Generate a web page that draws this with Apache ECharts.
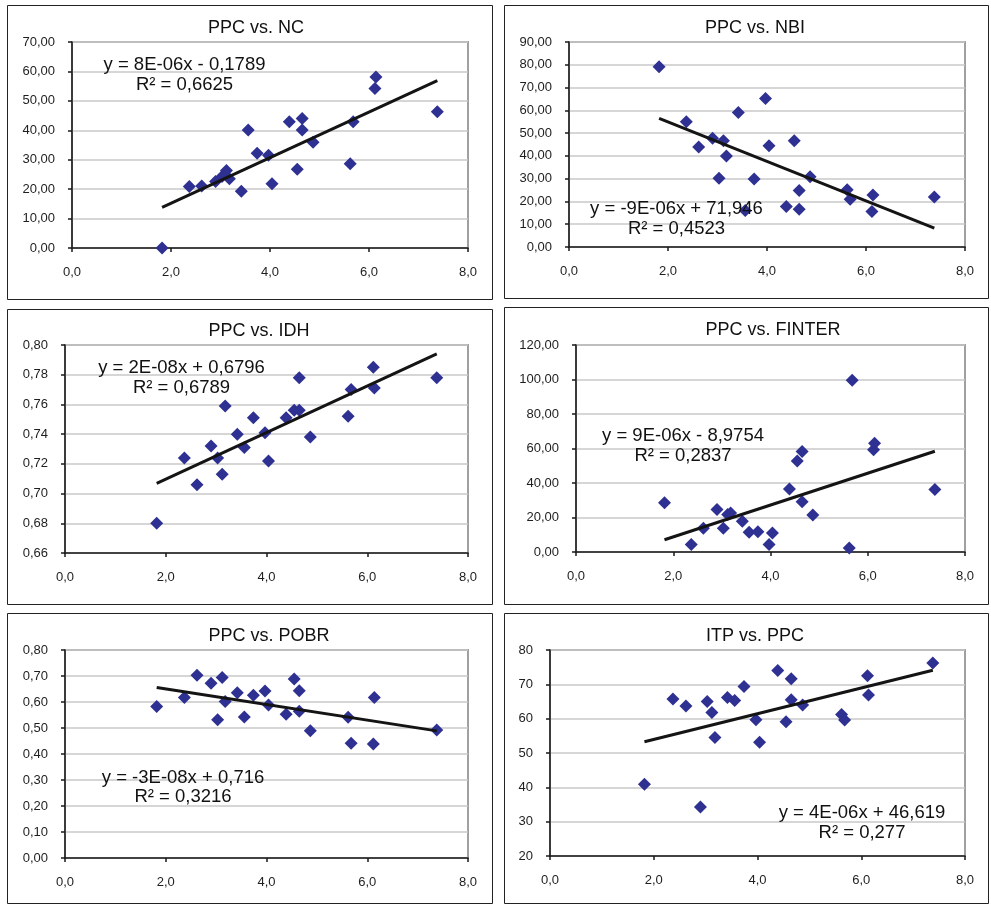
<!DOCTYPE html>
<html>
<head>
<meta charset="utf-8">
<script src="https://cdn.jsdelivr.net/npm/echarts@6/dist/echarts.min.js"></script>
<style>
html,body{margin:0;padding:0;background:#fff;}
#chart{width:991px;height:905px;}
</style>
</head>
<body>
<div id="chart"></div>
<script>
// Shared x values (PPC)
const ppc = [1.82, 2.37, 2.62, 2.90, 3.03, 3.12, 3.18, 3.42, 3.56, 3.74, 3.97, 4.04, 4.39, 4.55, 4.65, 4.65, 4.87, 5.62, 5.68, 6.12, 6.14, 7.38];

// Series values per panel (same order as ppc)
const nc = [0, 20.9, 21.1, 22.6, 24.3, 26.3, 23.5, 19.3, 40.1, 32.2, 31.5, 21.8, 42.9, 26.8, 44.0, 40.1, 35.9, 28.6, 42.9, 54.2, 58.1, 46.3];
const nbi = [79.1, 55.0, 43.9, 47.7, 30.2, 46.7, 40.0, 59.1, 16.0, 29.9, 65.2, 44.5, 17.8, 46.7, 24.8, 16.6, 30.8, 25.1, 21.0, 15.6, 22.8, 21.9];
const idh = [0.680, 0.724, 0.706, 0.732, 0.724, 0.713, 0.759, 0.740, 0.731, 0.751, 0.741, 0.722, 0.751, 0.756, 0.778, 0.756, 0.738, 0.752, 0.770, 0.785, 0.771, 0.778];
const finter = [28.6, 4.4, 13.7, 24.7, 13.7, 21.8, 22.6, 17.8, 11.4, 11.8, 4.4, 11.0, 36.5, 52.8, 58.2, 29.2, 21.4, 2.3, 99.5, 59.3, 63.0, 36.3];
const pobr = [0.583, 0.617, 0.703, 0.672, 0.532, 0.694, 0.602, 0.636, 0.542, 0.626, 0.642, 0.588, 0.553, 0.688, 0.643, 0.564, 0.489, 0.541, 0.441, 0.438, 0.617, 0.492];
const itp = [40.9, 65.7, 63.7, 34.3, 65.0, 61.8, 54.5, 66.2, 65.3, 69.4, 59.7, 53.1, 74.0, 59.1, 71.6, 65.5, 64.0, 61.2, 59.6, 72.5, 66.9, 76.2];

// Trendline endpoints
const trendX = [1.82, 7.38];
const trendNC = [13.8, 56.9];
const trendNBI = [56.5, 8.3];
const trendIDH = [0.7068, 0.7940];
const trendFINTER = [7.1, 58.4];
const trendPOBR = [0.656, 0.489];
const trendITP = [53.3, 74.1];

// Texts
const titles = ['PPC vs. NC', 'PPC vs. NBI', 'PPC vs. IDH', 'PPC vs. FINTER', 'PPC vs. POBR', 'ITP vs. PPC'];
const equations = ['y = 8E-06x - 0,1789', 'y = -9E-06x + 71,946', 'y = 2E-08x + 0,6796', 'y = 9E-06x - 8,9754', 'y = -3E-08x + 0,716', 'y = 4E-06x + 46,619'];
const rsquared = ['R\u00b2 = 0,6625', 'R\u00b2 = 0,4523', 'R\u00b2 = 0,6789', 'R\u00b2 = 0,2837', 'R\u00b2 = 0,3216', 'R\u00b2 = 0,277'];

// Axis ranges
const xRange = [0, 8, 2];
const yRanges = [[0, 70, 10], [0, 90, 10], [0.66, 0.80, 0.02], [0, 120, 20], [0, 0.8, 0.1], [20, 80, 10]];
const yDecimals = [2, 2, 2, 2, 2, 0];

const panelSeries = [nc, nbi, idh, finter, pobr, itp];
const panelTrends = [trendNC, trendNBI, trendIDH, trendFINTER, trendPOBR, trendITP];

// Layout (pixels)
const grids = [
  {left: 72, top: 42, width: 396, height: 206},
  {left: 569, top: 42, width: 396, height: 205},
  {left: 65, top: 345, width: 403, height: 208},
  {left: 576, top: 345, width: 389, height: 207},
  {left: 65, top: 650, width: 403, height: 208},
  {left: 550, top: 650, width: 415, height: 206}
];
const frames = [
  [7, 5, 485, 294], [504, 5, 484, 293],
  [7, 309, 485, 295], [504, 307, 484, 297],
  [7, 613, 485, 290], [504, 613, 484, 290]
];
const titlePos = [[256, 28], [755, 28], [259, 331], [773, 330], [269, 636], [755, 636]];
const eqPos = [[184.5, 65, 85], [676.5, 209, 229], [181.5, 368, 388], [683, 436, 456], [183, 778, 797], [862, 813, 833]];

const FONT = '"Liberation Sans", Arial, sans-serif';
const comma = (v, d) => v.toFixed(d).replace('.', ',');

const option = {
  animation: false,
  backgroundColor: '#fff',
  grid: grids.map(g => Object.assign({show: true, borderColor: '#a0a0a0', borderWidth: 2, backgroundColor: '#fff'}, g)),
  xAxis: grids.map((g, i) => ({
    type: 'value', gridIndex: i, min: xRange[0], max: xRange[1], interval: xRange[2],
    axisLine: {show: true, onZero: false, lineStyle: {color: '#1a1a1a', width: 1.5}},
    axisTick: {show: true, length: 4, lineStyle: {color: '#1a1a1a', width: 1.5}},
    splitLine: {show: false},
    axisLabel: {margin: 18, color: '#1e1e1e', fontFamily: FONT, fontSize: 13, formatter: v => comma(v, 1)}
  })),
  yAxis: grids.map((g, i) => ({
    type: 'value', gridIndex: i, min: yRanges[i][0], max: yRanges[i][1], interval: yRanges[i][2],
    axisLine: {show: true, onZero: false, lineStyle: {color: '#1a1a1a', width: 1.5}},
    axisTick: {show: true, length: 4, lineStyle: {color: '#1a1a1a', width: 1.5}},
    splitLine: {show: true, lineStyle: {color: '#c8c8c8', width: 1.5}},
    axisLabel: {margin: 17, color: '#1e1e1e', fontFamily: FONT, fontSize: 13, formatter: v => comma(v, yDecimals[i])}
  })),
  series: [],
  graphic: []
};

panelSeries.forEach((ys, i) => {
  option.series.push({
    type: 'scatter', xAxisIndex: i, yAxisIndex: i,
    symbol: 'diamond', symbolSize: [13, 13],
    itemStyle: {color: '#2e3192', opacity: 1},
    data: ppc.map((x, k) => [x, ys[k]]), z: 3
  });
  option.series.push({
    type: 'line', xAxisIndex: i, yAxisIndex: i, symbol: 'none',
    lineStyle: {color: '#141414', width: 3},
    data: trendX.map((x, k) => [x, panelTrends[i][k]]), z: 4
  });
});

frames.forEach(f => {
  option.graphic.push({type: 'rect', shape: {x: f[0] + 0.5, y: f[1] + 0.5, width: f[2], height: f[3]},
    style: {fill: 'none', stroke: '#222', lineWidth: 1}, z: 1, silent: true});
});
titles.forEach((t, i) => {
  option.graphic.push({type: 'text', x: titlePos[i][0], y: titlePos[i][1], z: 10,
    style: {text: t, fill: '#111', font: '18px ' + FONT, textAlign: 'center', textVerticalAlign: 'middle'}});
  option.graphic.push({type: 'text', x: eqPos[i][0], y: eqPos[i][1], z: 10,
    style: {text: equations[i], fill: '#111', font: '18.5px ' + FONT, textAlign: 'center', textVerticalAlign: 'middle'}});
  option.graphic.push({type: 'text', x: eqPos[i][0], y: eqPos[i][2], z: 10,
    style: {text: rsquared[i], fill: '#111', font: '18.5px ' + FONT, textAlign: 'center', textVerticalAlign: 'middle'}});
});

const chart = echarts.init(document.getElementById('chart'), null, {renderer: 'canvas'});
chart.setOption(option);
</script>
</body>
</html>
